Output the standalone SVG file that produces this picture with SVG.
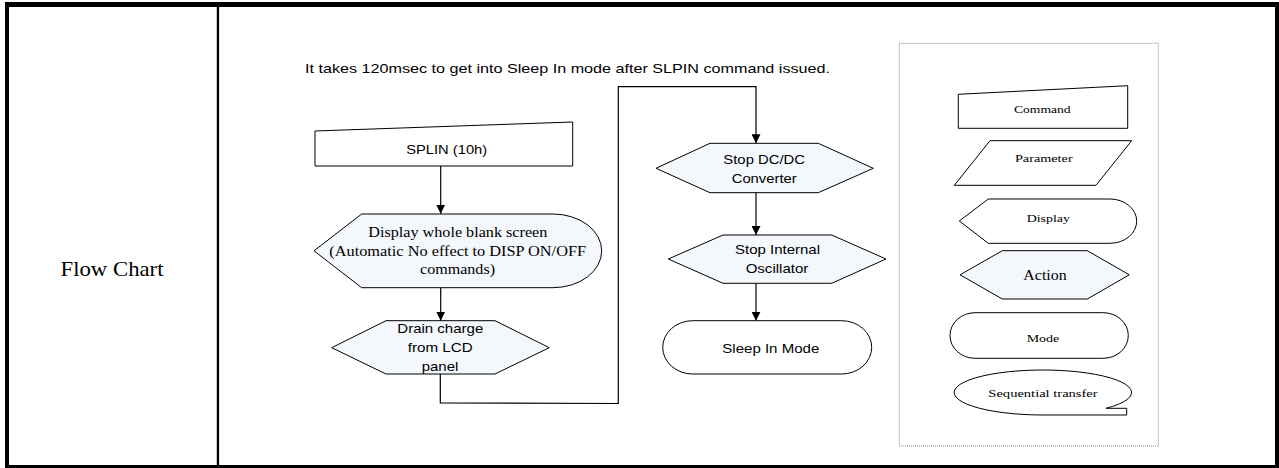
<svg xmlns="http://www.w3.org/2000/svg" width="1279" height="468" viewBox="0 0 1279 468">
<style>
.frame{fill:#000}
.shp{fill:#fff;stroke:#000;stroke-width:1}
.act{fill:#f4f7fb;stroke:#000;stroke-width:1}
.ar{font-family:"Liberation Sans",Arial,sans-serif;font-size:13px;fill:#000;text-anchor:middle}
.tm{font-family:"Liberation Serif","Times New Roman",serif;fill:#000;text-anchor:middle}
.conn{fill:none;stroke:#000;stroke-width:1.2}
.legbox{fill:none;stroke:#8a8a8a;stroke-width:1;stroke-dasharray:1,1}
</style>
<defs>
<marker id="arr" viewBox="0 0 10 10" refX="10" refY="5" markerWidth="9" markerHeight="9" markerUnits="userSpaceOnUse" orient="auto">
<path d="M0,0 L10,5 L0,10 Z" fill="#000"/>
</marker>
</defs>
<rect width="1279" height="468" fill="#fff"/>
<g id="table">
<rect class="frame" x="5" y="2" width="1274" height="5"/>
<rect class="frame" x="5" y="2" width="4" height="466"/>
<rect class="frame" x="1275" y="2" width="4" height="466"/>
<rect class="frame" x="5" y="465" width="1274" height="3"/>
<rect class="frame" x="216.8" y="5" width="2.3" height="462"/>
</g>
<g id="label-flowchart">
<text class="tm" x="112" y="276" font-size="21" textLength="103" lengthAdjust="spacingAndGlyphs">Flow Chart</text>
</g>
<g id="title">
<text class="ar" x="567.5" y="72.5" textLength="525" lengthAdjust="spacingAndGlyphs">It takes 120msec to get into Sleep In mode after SLPIN command issued.</text>
</g>
<g id="connectors">
<line class="conn" x1="440.7" y1="166" x2="440.7" y2="213.7" marker-end="url(#arr)"/>
<line class="conn" x1="440.7" y1="288" x2="440.7" y2="320.7" marker-end="url(#arr)"/>
<path class="conn" d="M440.3,374 L440.3,402.8 L618.3,403.5 L618.3,86.7 L756,86.7 L756,143.3" marker-end="url(#arr)"/>
<line class="conn" x1="756" y1="192.7" x2="756" y2="235" marker-end="url(#arr)"/>
<line class="conn" x1="756" y1="283.3" x2="756" y2="320.7" marker-end="url(#arr)"/>
</g>
<g id="node-splin">
<polygon class="shp" points="315,131 572.7,122 572.7,166 315,166"/>
<text class="ar" x="446.7" y="154" textLength="81" lengthAdjust="spacingAndGlyphs">SPLIN (10h)</text>
</g>
<g id="node-display">
<path class="act" d="M314,250.8 L361.7,214 L553,214 A48.7,36.85 0 0 1 553,287.7 L361.7,287.7 Z"/>
<text class="tm" x="457.8" y="236.7" font-size="15" textLength="179" lengthAdjust="spacingAndGlyphs">Display whole blank screen</text>
<text class="tm" x="457.7" y="255.7" font-size="15" textLength="256.7" lengthAdjust="spacingAndGlyphs">(Automatic No effect to DISP ON/OFF</text>
<text class="tm" x="457.5" y="274.3" font-size="15" textLength="75" lengthAdjust="spacingAndGlyphs">commands)</text>
</g>
<g id="node-drain">
<polygon class="act" points="331.7,347.7 386,320.7 495,320.7 549.3,347.7 495,374 386,374"/>
<text class="ar" x="440.3" y="332.7" textLength="86" lengthAdjust="spacingAndGlyphs">Drain charge</text>
<text class="ar" x="440.2" y="352" textLength="65" lengthAdjust="spacingAndGlyphs">from LCD</text>
<text class="ar" x="440" y="370.7" textLength="36.6" lengthAdjust="spacingAndGlyphs">panel</text>
</g>
<g id="node-stop-dcdc">
<polygon class="act" points="656,168.3 710,143.3 818.3,143.3 873.3,168.3 818.3,192.7 710,192.7"/>
<text class="ar" x="764.2" y="164" textLength="81.7" lengthAdjust="spacingAndGlyphs">Stop DC/DC</text>
<text class="ar" x="764.2" y="183.3" textLength="65" lengthAdjust="spacingAndGlyphs">Converter</text>
</g>
<g id="node-stop-osc">
<polygon class="act" points="668.3,259 723,235 831.7,235 886,259 831.7,283.3 723,283.3"/>
<text class="ar" x="777.5" y="254.3" textLength="85" lengthAdjust="spacingAndGlyphs">Stop Internal</text>
<text class="ar" x="777" y="273.3" textLength="62.7" lengthAdjust="spacingAndGlyphs">Oscillator</text>
</g>
<g id="node-sleep">
<rect class="shp" x="662.7" y="320.7" width="209" height="53.3" rx="30" ry="26.65"/>
<text class="ar" x="770.8" y="353.3" textLength="97" lengthAdjust="spacingAndGlyphs">Sleep In Mode</text>
</g>
<g id="legend">
<rect class="legbox" x="899.3" y="43.3" width="259" height="402.7"/>
<g id="legend-command">
<polygon class="shp" points="958.3,94.3 1127.7,85.7 1127.7,128.3 958.3,128.3"/>
<text class="tm" x="1042.3" y="113.3" font-size="11" textLength="56.7" lengthAdjust="spacingAndGlyphs">Command</text>
</g>
<g id="legend-parameter">
<polygon class="shp" points="990,140.7 1131.7,140.7 1096,185.3 954.3,185.3"/>
<text class="tm" x="1043.8" y="162" font-size="11" textLength="57.7" lengthAdjust="spacingAndGlyphs">Parameter</text>
</g>
<g id="legend-display">
<path class="shp" d="M959.3,221 L988.3,199 L1110,199 A26.7,22.15 0 0 1 1110,243.3 L988.3,243.3 Z"/>
<text class="tm" x="1048.3" y="221.5" font-size="11" textLength="43.3" lengthAdjust="spacingAndGlyphs">Display</text>
</g>
<g id="legend-action">
<polygon class="act" points="960,274.8 1002.3,250.7 1087.3,250.7 1129.3,274.8 1087.3,299 1002.3,299"/>
<text class="tm" x="1045" y="280" font-size="14" textLength="43.3" lengthAdjust="spacingAndGlyphs">Action</text>
</g>
<g id="legend-mode">
<rect class="shp" x="950" y="312.7" width="178.3" height="45.6" rx="25" ry="22.8"/>
<text class="tm" x="1043" y="341.5" font-size="11" textLength="32.7" lengthAdjust="spacingAndGlyphs">Mode</text>
</g>
<g id="legend-sequential">
<path class="shp" d="M1106,408.3 A88.7,22.5 0 1 0 1043,415 L1126.7,415 L1126.7,408.3 Z"/>
<text class="tm" x="1043" y="397" font-size="11" textLength="109.3" lengthAdjust="spacingAndGlyphs">Sequential transfer</text>
</g>
</g>
</svg>
